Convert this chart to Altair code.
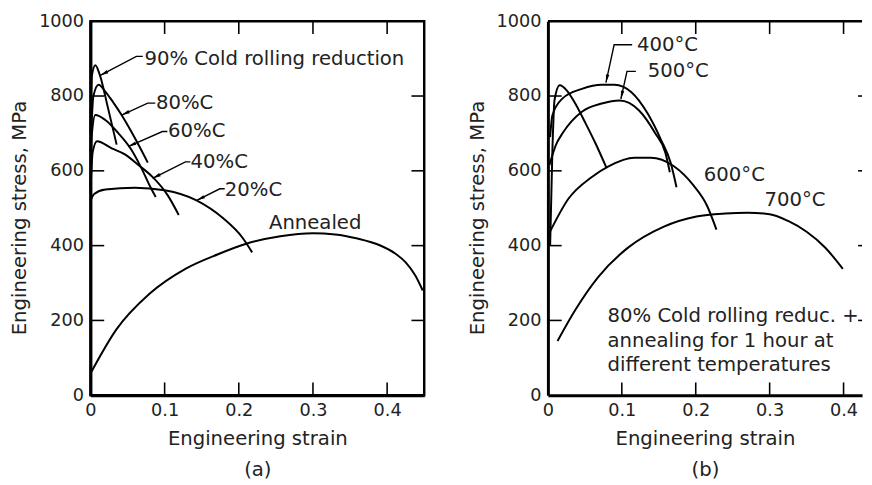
import math
import altair as alt
import pandas as pd

FONT = "DejaVu Sans"
INK = "#222222"

# ---------------- panel (a): cold rolled ----------------
a_curve_names = ["90%", "80%", "60%", "40%", "20%", "Annealed"]
a_strain = [
    [0.0, 0.002, 0.0066, 0.012, 0.024, 0.0353],
    [0.0, 0.004, 0.011, 0.02, 0.03, 0.042, 0.055, 0.066, 0.0773],
    [0.0, 0.002, 0.0066, 0.02, 0.0375, 0.055, 0.068, 0.082, 0.088],
    [0.0, 0.003, 0.0088, 0.0287, 0.0464, 0.065, 0.084, 0.104, 0.119],
    [0.0, 0.005, 0.02, 0.06, 0.10, 0.143, 0.179, 0.205, 0.218],
    [0.0, 0.035, 0.08, 0.128, 0.172, 0.21, 0.256, 0.30, 0.33, 0.36, 0.39, 0.41, 0.425, 0.438, 0.448],
]
a_stress = [
    [700, 855, 882, 860, 765, 670],
    [650, 800, 830, 812, 785, 749, 705, 665, 622],
    [560, 700, 749, 736, 701, 657, 610, 552, 530],
    [540, 650, 679, 660, 644, 615, 583, 535, 482],
    [520, 538, 550, 555, 548, 521, 473, 421, 382],
    [58, 176, 272, 338, 377, 405, 425, 433, 430, 419, 401, 380, 355, 320, 280],
]

a_label_text = ["90% Cold rolling reduction", "80%C", "60%C", "40%C", "20%C", "Annealed"]
a_label_strain = [0.0728, 0.0883, 0.1046, 0.135, 0.1811, 0.2407]
a_label_stress = [900, 780, 705, 622, 548, 460]
a_tip_strain = [0.0132, 0.042, 0.0507, 0.0838, 0.1434]
a_tip_stress = [855, 749, 665, 580, 521]
a_elbow_strain = [0.0619, 0.0772, 0.097, 0.128, 0.1744]
a_elbow_stress = [906, 781, 705, 624, 552]
a_end_strain = [0.0706, 0.0874, 0.1037, 0.1347, 0.181]
a_end_stress = [906, 781, 705, 624, 552]

# ---------------- panel (b): 80% CR + annealing ----------------
b_curve_names = ["as rolled", "400°C", "500°C", "600°C", "700°C"]
b_strain = [
    [0.003, 0.006, 0.009, 0.016, 0.026, 0.037, 0.051, 0.064, 0.079],
    [0.003, 0.006, 0.0195, 0.046, 0.073, 0.09, 0.113, 0.135, 0.153, 0.166, 0.174],
    [0.002, 0.011, 0.02, 0.046, 0.073, 0.097, 0.123, 0.145, 0.159, 0.165],
    [0.001, 0.028, 0.059, 0.082, 0.117, 0.139, 0.17, 0.197, 0.215, 0.228],
    [0.013, 0.037, 0.068, 0.108, 0.157, 0.201, 0.24, 0.27, 0.30, 0.325, 0.35, 0.375, 0.399],
]
b_stress = [
    [400, 650, 790, 829, 814, 780, 727, 675, 609],
    [690, 748, 793, 819, 830, 830, 810, 753, 683, 622, 556],
    [615, 670, 701, 758, 780, 788, 762, 701, 648, 596],
    [430, 526, 583, 612, 635, 635, 613, 561, 508, 443],
    [145, 228, 316, 394, 451, 478, 486, 488, 484, 466, 437, 395, 338],
]

b_label_text = ["400°C", "500°C", "600°C", "700°C"]
b_label_strain = [0.1206, 0.135, 0.211, 0.293]
b_label_stress = [937, 867, 588, 522]
b_tip_strain = [0.0785, 0.0987]
b_tip_stress = [836, 792]
b_elbow_strain = [0.0896, 0.107]
b_elbow_stress = [937, 866]
b_end_strain = [0.114, 0.119]
b_end_stress = [937, 866]
b_note_lines = ["80% Cold rolling reduc. +", "annealing for 1 hour at", "different temperatures"]
b_note_strain = 0.0807
b_note_stress = [211, 145, 80]

x_tick_values = [0, 0.1, 0.2, 0.3, 0.4]
y_tick_values = [0, 200, 400, 600, 800, 1000]
inner_x_ticks = [0.1, 0.2, 0.3, 0.4]
inner_y_ticks = [200, 400, 600, 800]

A_XMAX, B_XMAX, YMAX = 0.45, 0.425, 1000
A_W, B_W, H = 340, 320, 381
ARROW_PATH = "M0,-1L0.42,1L-0.42,1Z"


def curves_df(names, xs, ys):
    rows = []
    for n, sx, sy in zip(names, xs, ys):
        for i, (a, b) in enumerate(zip(sx, sy)):
            rows.append({"curve": n, "i": i, "strain": a, "stress": b})
    return pd.DataFrame(rows)


def leaders_df(tx, ty, ex, ey, nx, ny):
    rows = []
    for k in range(len(tx)):
        for i, (a, b) in enumerate([(tx[k], ty[k]), (ex[k], ey[k]), (nx[k], ny[k])]):
            rows.append({"lead": k, "i": i, "strain": a, "stress": b})
    return pd.DataFrame(rows)


def heads_df(tx, ty, ex, ey, pxs, pys, r=4.2):
    rows = []
    for a, b, c, d in zip(tx, ty, ex, ey):
        dx = (a - c) * pxs
        dy = -(b - d) * pys
        L = math.hypot(dx, dy)
        ux, uy = dx / L, dy / L
        ang = math.degrees(math.atan2(ux, -uy)) % 360
        rows.append({"strain": a - r * ux / pxs, "stress": b + r * uy / pys, "angle": ang})
    return pd.DataFrame(rows)


def panel(curves, leaders, heads, labels, xmax, width, caption, right_frame):
    xs = alt.Scale(domain=[0, xmax], nice=False, zero=False)
    ys = alt.Scale(domain=[0, YMAX], nice=False, zero=False)

    x_axis = alt.Axis(
        values=x_tick_values, format="~g", ticks=False, grid=False,
        domainColor="black", domainWidth=3, labelFlush=False, labelOverlap=False,
        labelFont=FONT, labelFontSize=18, labelColor=INK, labelPadding=7,
        title=["Engineering strain", caption], titleFont=FONT, titleFontSize=20,
        titleFontWeight="normal", titleColor=INK, titlePadding=9, titleLineHeight=32,
    )
    y_axis = alt.Axis(
        values=y_tick_values, format="d", ticks=False, grid=False,
        domainColor="black", domainWidth=3, labelOverlap=False,
        labelFont=FONT, labelFontSize=18, labelColor=INK, labelPadding=7,
        title="Engineering stress, MPa", titleFont=FONT, titleFontSize=20,
        titleFontWeight="normal", titleColor=INK, titlePadding=9, titleY=200,
    )

    def X(f="strain:Q"):
        return alt.X(f, scale=xs, axis=x_axis)

    def Y(f="stress:Q"):
        return alt.Y(f, scale=ys, axis=y_axis)

    lines = alt.Chart(curves).mark_line(
        color="black", strokeWidth=2, interpolate="monotone"
    ).encode(x=X(), y=Y(), detail="curve:N", order="i:Q")
    lead = alt.Chart(leaders).mark_line(color="black", strokeWidth=1.4).encode(
        x=X(), y=Y(), detail="lead:N", order="i:Q"
    )
    head = alt.Chart(heads).mark_point(
        shape=ARROW_PATH, filled=True, color="black", size=70, opacity=1, strokeWidth=0
    ).encode(x=X(), y=Y(), angle=alt.Angle("angle:Q", scale=None))
    text = alt.Chart(labels).mark_text(
        align="left", baseline="middle", font=FONT, fontSize=20, color=INK
    ).encode(x=X(), y=Y(), text="label:N")

    bottom = pd.DataFrame({"strain": inner_x_ticks, "stress": [0] * 4})
    top = pd.DataFrame({"strain": inner_x_ticks, "stress": [YMAX] * 4})
    left = pd.DataFrame({"strain": [0] * 4, "stress": inner_y_ticks})
    right = pd.DataFrame({"strain": [xmax] * 4, "stress": inner_y_ticks})
    tk = dict(color="black", thickness=1.6, opacity=1)
    t_bottom = alt.Chart(bottom).mark_tick(orient="vertical", size=13, yOffset=-6.5, **tk).encode(x=X(), y=Y())
    t_top = alt.Chart(top).mark_tick(orient="vertical", size=13, yOffset=6.5, **tk).encode(x=X(), y=Y())
    t_left = alt.Chart(left).mark_tick(orient="horizontal", size=14, xOffset=7, **tk).encode(x=X(), y=Y())
    if right_frame:
        t_right = alt.Chart(right).mark_tick(orient="horizontal", size=13, xOffset=-6.5, **tk).encode(x=X(), y=Y())
    else:
        t_right = alt.Chart(right).mark_tick(orient="horizontal", size=4, xOffset=-2, **tk).encode(x=X(), y=Y())

    layers = [lines, lead, head, text, t_bottom, t_top, t_left, t_right]
    if right_frame:
        view = alt.ViewBackground(stroke="black", strokeWidth=2.5)
    else:
        view = alt.ViewBackground(stroke=None)
        top_rule = alt.Chart(pd.DataFrame({"strain": [0.0], "strain2": [xmax], "stress": [YMAX]})).mark_rule(
            color="black", strokeWidth=2.5
        ).encode(x=X(), x2="strain2:Q", y=Y())
        layers.append(top_rule)
    return alt.layer(*layers).properties(width=width, height=H, view=view)


a_curves = curves_df(a_curve_names, a_strain, a_stress)
a_leaders = leaders_df(a_tip_strain, a_tip_stress, a_elbow_strain, a_elbow_stress, a_end_strain, a_end_stress)
a_heads = heads_df(a_tip_strain, a_tip_stress, a_elbow_strain, a_elbow_stress, A_W / A_XMAX, H / YMAX)
a_labels = pd.DataFrame({"label": a_label_text, "strain": a_label_strain, "stress": a_label_stress})

b_curves = curves_df(b_curve_names, b_strain, b_stress)
b_leaders = leaders_df(b_tip_strain, b_tip_stress, b_elbow_strain, b_elbow_stress, b_end_strain, b_end_stress)
b_heads = heads_df(b_tip_strain, b_tip_stress, b_elbow_strain, b_elbow_stress, B_W / B_XMAX, H / YMAX)
b_labels = pd.DataFrame({
    "label": b_label_text + b_note_lines,
    "strain": b_label_strain + [b_note_strain] * 3,
    "stress": b_label_stress + b_note_stress,
})

pa = panel(a_curves, a_leaders, a_heads, a_labels, A_XMAX, A_W, "(a)", True)
pb = panel(b_curves, b_leaders, b_heads, b_labels, B_XMAX, B_W, "(b)", False)

chart = alt.hconcat(pa, pb, spacing=40).properties(
    padding={"left": 0, "top": -2, "right": 0, "bottom": 0},
    background="white",
)

chart.save("out.html", embed_options={"renderer": "svg", "actions": False})
